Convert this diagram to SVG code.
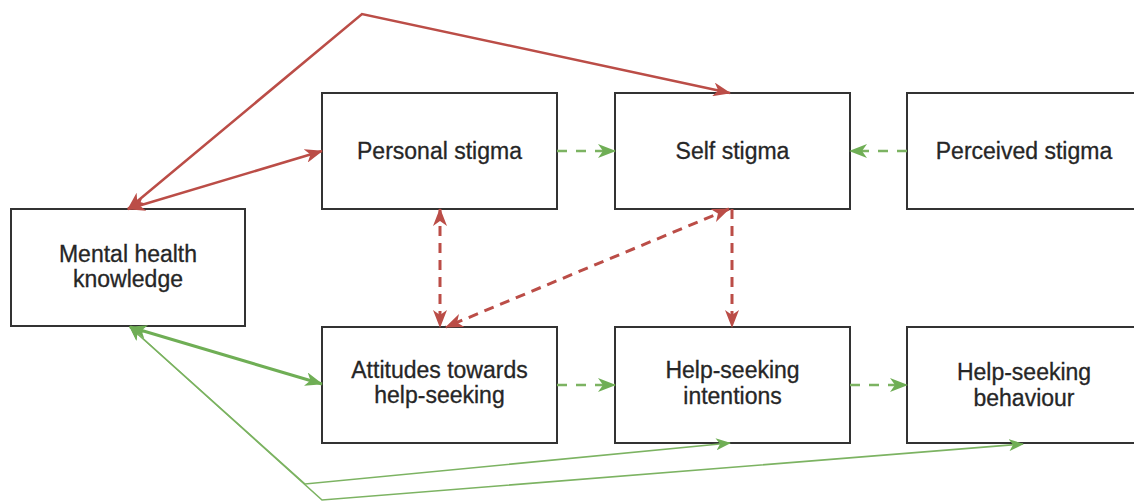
<svg xmlns="http://www.w3.org/2000/svg" width="1134" height="502" viewBox="0 0 1134 502">
  <style>
    .box { fill: #ffffff; stroke: #333333; stroke-width: 2; }
    .lbl { font-family: "Liberation Sans", Arial, sans-serif; font-size: 23px; fill: #262626; stroke: #262626; stroke-width: 0.3; text-anchor: middle; }
    .red { fill: none; stroke: #bb4d47; stroke-width: 2.5; }
    .red-dash { fill: none; stroke: #bb4d47; stroke-width: 3; stroke-dasharray: 10 7; }
    .green-dash { fill: none; stroke: #7cb362; stroke-width: 2.5; stroke-dasharray: 10 9; }
    .green { fill: none; stroke: #6fae55; stroke-width: 3; }
    .green-thin { fill: none; stroke: #7cb362; stroke-width: 1.6; }
  </style>
  <defs>
    <!-- classic notched arrowheads, sized in user units so stroke width does not scale them -->
    <marker id="arrRed" viewBox="0 0 18 14" refX="17" refY="7" markerWidth="18" markerHeight="14" markerUnits="userSpaceOnUse" orient="auto-start-reverse">
      <path d="M0,0 L18,7 L0,14 L5,7 Z" fill="#bb4d47"/>
    </marker>
    <marker id="arrGreen" viewBox="0 0 18 14" refX="17" refY="7" markerWidth="18" markerHeight="14" markerUnits="userSpaceOnUse" orient="auto-start-reverse">
      <path d="M0,0 L18,7 L0,14 L5,7 Z" fill="#6fae55"/>
    </marker>
    <marker id="arrGreenSm" viewBox="0 0 15 12" refX="14" refY="6" markerWidth="15" markerHeight="12" markerUnits="userSpaceOnUse" orient="auto-start-reverse">
      <path d="M0,0 L15,6 L0,12 L4,6 Z" fill="#6fae55"/>
    </marker>
  </defs>

  <rect width="1134" height="502" fill="#ffffff"/>

  <!-- nodes -->
  <g id="node-knowledge">
    <rect class="box" x="11" y="209" width="234" height="117"/>
    <text class="lbl" x="128" y="262">Mental health</text>
    <text class="lbl" x="128" y="287">knowledge</text>
  </g>
  <g id="node-personal">
    <rect class="box" x="322" y="93" width="235" height="116"/>
    <text class="lbl" x="439.5" y="159">Personal stigma</text>
  </g>
  <g id="node-self">
    <rect class="box" x="615" y="93" width="235" height="116"/>
    <text class="lbl" x="732.5" y="159">Self stigma</text>
  </g>
  <g id="node-perceived">
    <rect class="box" x="907" y="93" width="235" height="116"/>
    <text class="lbl" x="1024" y="159">Perceived stigma</text>
  </g>
  <g id="node-attitudes">
    <rect class="box" x="322" y="327" width="235" height="116"/>
    <text class="lbl" x="439.5" y="378">Attitudes towards</text>
    <text class="lbl" x="439.5" y="403">help-seeking</text>
  </g>
  <g id="node-intentions">
    <rect class="box" x="615" y="327" width="235" height="116"/>
    <text class="lbl" x="732.5" y="378">Help-seeking</text>
    <text class="lbl" x="732.5" y="404">intentions</text>
  </g>
  <g id="node-behaviour">
    <rect class="box" x="907" y="327" width="235" height="116"/>
    <text class="lbl" x="1024" y="380">Help-seeking</text>
    <text class="lbl" x="1024" y="406">behaviour</text>
  </g>

  <!-- connectors -->
  <g id="connectors">
    <!-- knowledge and stigma (red, solid) -->
    <polyline class="red" points="128,209 362,14 730,93" marker-start="url(#arrRed)" marker-end="url(#arrRed)"/>
    <line class="red" x1="128" y1="209" x2="322" y2="151" marker-start="url(#arrRed)" marker-end="url(#arrRed)"/>

    <!-- stigma links (red, dashed) -->
    <line class="red-dash" x1="440" y1="209" x2="440" y2="327" marker-start="url(#arrRed)" marker-end="url(#arrRed)"/>
    <line class="red-dash" x1="729" y1="209" x2="446" y2="327" marker-start="url(#arrRed)" marker-end="url(#arrRed)"/>
    <line class="red-dash" x1="732" y1="209" x2="732" y2="327" marker-end="url(#arrRed)"/>

    <!-- pathway links (green, dashed) -->
    <line class="green-dash" x1="557" y1="151" x2="615" y2="151" marker-end="url(#arrGreen)"/>
    <line class="green-dash" x1="907" y1="151" x2="850" y2="151" marker-end="url(#arrGreen)"/>
    <line class="green-dash" x1="557" y1="385" x2="615" y2="385" marker-end="url(#arrGreen)"/>
    <line class="green-dash" x1="850" y1="385" x2="907" y2="385" marker-end="url(#arrGreen)"/>

    <!-- knowledge and help-seeking (green, solid) -->
    <line class="green" x1="130" y1="327" x2="322" y2="384" marker-start="url(#arrGreen)" marker-end="url(#arrGreen)"/>
    <polyline class="green-thin" points="130,327 305,484 730,443" marker-start="url(#arrGreenSm)" marker-end="url(#arrGreenSm)"/>
    <polyline class="green-thin" points="130,327 322,500 1023,444" marker-start="url(#arrGreenSm)" marker-end="url(#arrGreenSm)"/>
  </g>
</svg>
